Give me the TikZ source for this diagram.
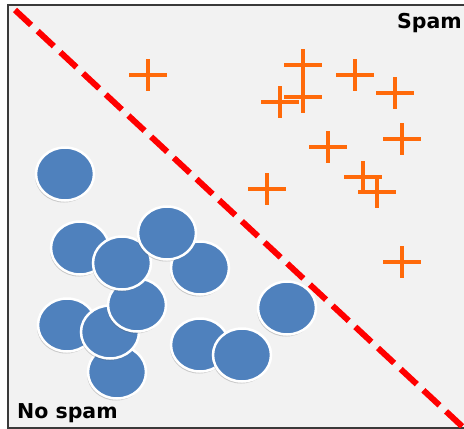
\documentclass[tikz,border=0pt]{standalone}
\usepackage{fontspec}
\setmainfont{DejaVu Sans}
\usetikzlibrary{shapes.geometric,shadows}

\definecolor{panelgray}{HTML}{F2F2F2}
\definecolor{framegray}{HTML}{3A3A3A}
\definecolor{spamorange}{HTML}{FF6A0A}
\definecolor{hamblue}{HTML}{4F81BD}

\begin{document}
\begin{tikzpicture}[x=1pt, y=-1pt,
  coin/.style={ellipse, fill=hamblue, draw=white, line width=2.5pt,
    minimum width=58pt, minimum height=53pt, inner sep=0pt,
    drop shadow={shadow xshift=-1pt, shadow yshift=-2pt, opacity=0.25, fill=black!70}},
  plusline/.style={spamorange, line width=4.5pt},
  tag/.style={inner sep=0pt, font=\bfseries\fontsize{20.5}{20.5}\selectfont}]

  % Coordinates
  \def\W{464}  % Width of the picture
  \def\H{429}  % Height of the picture
  \def\a{19}   % Half width of a plus
  \def\b{16}   % Half height of a plus

  \useasboundingbox (0,0) rectangle (\W,\H);
  \fill[white] (0,0) rectangle (\W,\H);

  % Draw panel
  \draw[framegray, line width=1.5pt, fill=panelgray] (8,5) rectangle (\W+4,428);

  % Decision boundary
  \begin{scope}
    \clip (9,6) rectangle (\W,427);
    \draw[red, line width=6pt, dash pattern=on 22pt off 9pt] (15,10) -- (480,443);
  \end{scope}

  % Spam messages
  \foreach \px/\py in {148/75, 303/65, 303/97, 280/102, 355/75, 395/93,
                       402/139, 328/147, 363/177, 377/192, 267/189, 402/262}
    \draw[plusline] (\px-\a,\py) -- (\px+\a,\py) (\px,\py-\b) -- (\px,\py+\b);

  % No spam messages
  \node[coin] (c1)  at (65,174)  {};
  \node[coin] (c2)  at (80,248)  {};
  \node[coin] (c7)  at (67,325)  {};
  \node[coin] (c9)  at (117,372) {};
  \node[coin] (c8)  at (110,332) {};
  \node[coin] (c6)  at (137,305) {};
  \node[coin] (c4)  at (122,263) {};
  \node[coin] (c5)  at (200,268) {};
  \node[coin] (c3)  at (167,233) {};
  \node[coin] (c10) at (200,345) {};
  \node[coin] (c11) at (242,355) {};
  \node[coin] (c12) at (287,308) {};

  % Class names
  \node[tag, anchor=base west] (spam) at (397,28)  {Spam};
  \node[tag, anchor=base west] (ham)  at (17,418)  {No spam};

\end{tikzpicture}
\end{document}
